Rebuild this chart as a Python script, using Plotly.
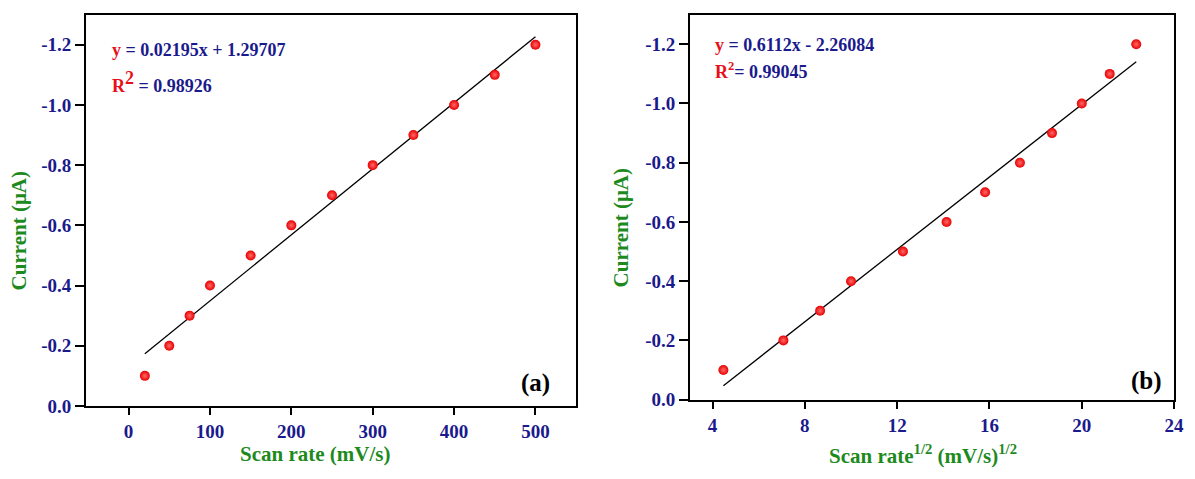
import numpy as np
import plotly.graph_objects as go

# ---- data ----
scan_rate = [20, 50, 75, 100, 150, 200, 250, 300, 350, 400, 450, 500]
sqrt_scan_rate = [4.47, 7.07, 8.66, 10.0, 12.25, 14.14, 15.81, 17.32, 18.71, 20.0, 21.21, 22.36]
current = [-0.1, -0.2, -0.3, -0.4, -0.5, -0.6, -0.7, -0.8, -0.9, -1.0, -1.1, -1.2]

y_tickvals = [0.0, -0.2, -0.4, -0.6, -0.8, -1.0, -1.2]
y_ticktext = ["0.0", "-0.2", "-0.4", "-0.6", "-0.8", "-1.0", "-1.2"]
xa_tickvals = [0, 100, 200, 300, 400, 500]
xb_tickvals = [4, 8, 12, 16, 20, 24]

eq_a = "y = 0.02195x + 1.29707"
r2_a = "0.98926"
eq_b = "y = 0.6112x - 2.26084"
r2_b = "0.99045"

NAVY = "#1a1a8c"
GREEN = "#1e8a1e"
RED = "#e8101a"
FONT = "Liberation Serif"

W, H = 1195, 479

def px_x(p):
    return p / W

def px_y(p):
    return 1 - p / H

fig = go.Figure()

marker = dict(color="#e80000", size=10, line=dict(width=0),
              gradient=dict(type="radial", color="#ff6a6a"))

# panel a
fa = np.polyfit(scan_rate, current, 1)
xa_fit = [scan_rate[0], scan_rate[-1]]
fig.add_trace(go.Scatter(x=xa_fit, y=np.polyval(fa, xa_fit), mode="lines",
                         line=dict(color="black", width=1.3), xaxis="x", yaxis="y",
                         showlegend=False, hoverinfo="skip"))
fig.add_trace(go.Scatter(x=scan_rate, y=current, mode="markers", marker=marker,
                         xaxis="x", yaxis="y", showlegend=False))

# panel b
fb = np.polyfit(sqrt_scan_rate, current, 1)
xb_fit = [sqrt_scan_rate[0], sqrt_scan_rate[-1]]
fig.add_trace(go.Scatter(x=xb_fit, y=np.polyval(fb, xb_fit), mode="lines",
                         line=dict(color="black", width=1.3), xaxis="x2", yaxis="y2",
                         showlegend=False, hoverinfo="skip"))
fig.add_trace(go.Scatter(x=sqrt_scan_rate, y=current, mode="markers", marker=marker,
                         xaxis="x2", yaxis="y2", showlegend=False))

tickfont = dict(family=FONT, size=19, color=NAVY, weight="bold")
common_axis = dict(showline=True, linecolor="black", linewidth=2.2, mirror=True,
                   ticks="outside", tickcolor="black", tickwidth=2,
                   showgrid=False, zeroline=False, tickfont=tickfont)

fig.update_layout(
    width=W, height=H,
    margin=dict(l=0, r=0, t=0, b=0),
    paper_bgcolor="white", plot_bgcolor="white",
    xaxis=dict(domain=[px_x(87), px_x(581)], range=[-52, 550], tickvals=xa_tickvals,
               anchor="y", ticklen=7, **common_axis),
    yaxis=dict(domain=[px_y(415.5), px_y(15)], range=[0, -1.3], tickvals=y_tickvals,
               ticktext=y_ticktext, anchor="x", ticklen=9, **common_axis),
    xaxis2=dict(domain=[px_x(696), px_x(1184)], range=[3.03, 24], tickvals=xb_tickvals,
                anchor="y2", ticklen=7, **common_axis),
    yaxis2=dict(domain=[px_y(409), px_y(15)], range=[0, -1.3], tickvals=y_tickvals,
                ticktext=y_ticktext, anchor="x2", ticklen=9, **common_axis),
)

def ann(text, x, y, size, color="black", angle=0, xanchor="center"):
    fig.add_annotation(text=text, x=px_x(x), y=px_y(y), xref="paper", yref="paper",
                       showarrow=False, textangle=angle, xanchor=xanchor, yanchor="middle",
                       font=dict(family=FONT, size=size, color=color, weight="bold"))

# axis titles
ann("Current (μA)", 19, 236, 21, GREEN, angle=-90)
ann("Scan rate (mV/s)", 318, 465, 21, GREEN)
ann("Current (μA)", 626, 233, 21, GREEN, angle=-90)
ann("Scan rate<sup>1/2</sup> (mV/s)<sup>1/2</sup>", 931, 465, 21, GREEN)

# equations
ann(f"<span style='color:{RED}'>y</span>" + eq_a[1:], 111, 51, 18, NAVY, xanchor="left")
ann(f"<span style='color:{RED}'>R<sup><span style='font-size:18px'>2</span></sup></span> = " + r2_a,
    111, 84, 18, NAVY, xanchor="left")
ann(f"<span style='color:{RED}'>y</span>" + eq_b[1:], 719, 46, 18, NAVY, xanchor="left")
ann(f"<span style='color:{RED}'>R<sup>2</sup></span>= " + r2_b, 719, 72, 18, NAVY, xanchor="left")

# panel labels
ann("(a)", 540, 392, 25, "black")
ann("(b)", 1156, 390, 25, "black")

fig.write_html(
    "out.html",
    post_script="document.body.style.margin='0';document.body.style.overflow='hidden';",
)
